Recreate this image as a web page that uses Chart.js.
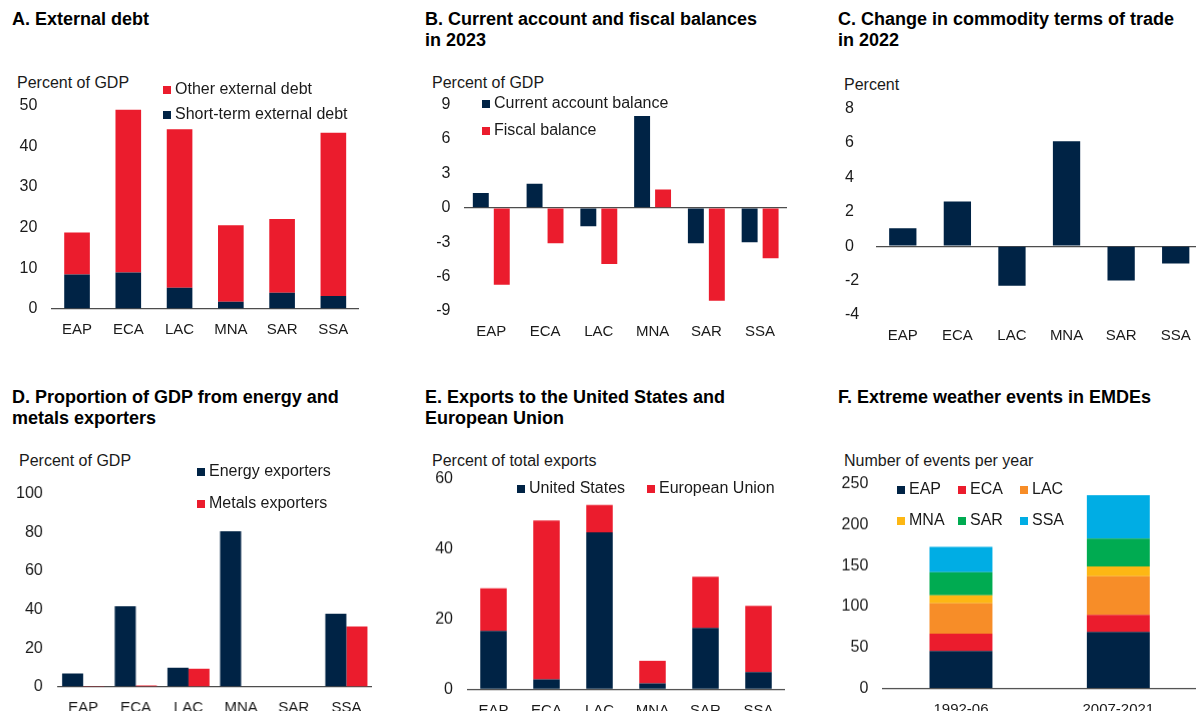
<!DOCTYPE html>
<html lang="en">
<head>
    <meta charset="UTF-8">
    <script src="https://cdn.jsdelivr.net/npm/chart.js"></script>
    <style>
        html, body {
            margin: 0;
            padding: 0;
            width: 1196px;
            height: 711px;
            overflow: hidden;
            background: #fff;
            font-family: "Liberation Sans", Arial, sans-serif;
            color: #1a1a1a;
        }
        .title {
            position: absolute;
            font-weight: bold;
            font-size: 18px;
            line-height: 21px;
            color: #000;
        }
        .unit {
            position: absolute;
            font-size: 16px;
            line-height: 18px;
            white-space: nowrap;
        }
        .box {
            position: absolute;
        }
        .legend-item {
            position: absolute;
            font-size: 16px;
            line-height: 18px;
            white-space: nowrap;
            display: flex;
            align-items: center;
        }
        .legend-item span.sw {
            display: inline-block;
            width: 8px;
            height: 8px;
            margin-right: 4px;
            margin-top: 1px;
        }
    </style>
</head>
<body>
    <div class="title" style="left:12px; top:9px;">A. External debt</div>
    <div class="title" style="left:425px; top:9px;">B. Current account and fiscal balances<br>in 2023</div>
    <div class="title" style="left:838px; top:9px;">C. Change in commodity terms of trade<br>in 2022</div>
    <div class="title" style="left:12px; top:387px;">D. Proportion of GDP from energy and<br>metals exporters</div>
    <div class="title" style="left:425px; top:387px;">E. Exports to the United States and<br>European Union</div>
    <div class="title" style="left:838px; top:387px;">F. Extreme weather events in EMDEs</div>

    <div class="unit" style="left:17px; top:74px;">Percent of GDP</div>
    <div class="unit" style="left:432px; top:74px;">Percent of GDP</div>
    <div class="unit" style="left:844px; top:76px;">Percent</div>
    <div class="unit" style="left:19px; top:452px;">Percent of GDP</div>
    <div class="unit" style="left:432px; top:452px;">Percent of total exports</div>
    <div class="unit" style="left:844px; top:452px;">Number of events per year</div>

    <div class="box" id="boxA"><canvas id="chartA"></canvas></div>
    <div class="box" id="boxB"><canvas id="chartB"></canvas></div>
    <div class="box" id="boxC"><canvas id="chartC"></canvas></div>
    <div class="box" id="boxD"><canvas id="chartD"></canvas></div>
    <div class="box" id="boxE"><canvas id="chartE"></canvas></div>
    <div class="box" id="boxF"><canvas id="chartF"></canvas></div>

    <script>
        // data
        const regions = ['EAP', 'ECA', 'LAC', 'MNA', 'SAR', 'SSA'];

        const shortTermDebt = [8.5, 9.0, 5.2, 1.8, 4.0, 3.2];
        const otherDebt = [10.3, 40.0, 39.0, 18.8, 18.1, 40.1];

        const currentAccount = [1.3, 2.1, -1.6, 8.0, -3.1, -3.0];
        const fiscalBalance = [-6.7, -3.1, -4.9, 1.6, -8.1, -4.4];

        const commodityToT = [1.05, 2.6, -2.3, 6.1, -2.0, -1.0];

        const energyExporters = [7.0, 41.7, 9.9, 80.5, 0, 37.9];
        const metalsExporters = [0.3, 0.8, 9.5, 0, 0, 31.3];

        const exportsUS = [16.6, 2.8, 44.7, 1.7, 17.5, 4.9];
        const exportsEU = [12.2, 45.3, 7.8, 6.4, 14.6, 18.9];

        const periods = ['1992-06', '2007-2021'];
        const weatherEAP = [46, 69];
        const weatherECA = [21, 21];
        const weatherLAC = [37, 47];
        const weatherMNA = [10, 12];
        const weatherSAR = [28, 34];
        const weatherSSA = [31, 53];

        const NAVY = '#002345';
        const RED = '#EB1C2D';
        const ORANGE = '#F78D28';
        const YELLOW = '#FDB714';
        const GREEN = '#00AB51';
        const CYAN = '#00ADE4';

        Chart.defaults.font.family = '"Liberation Sans", Arial, sans-serif';
        Chart.defaults.color = '#1a1a1a';
        Chart.defaults.animation = false;

        // p: canvasLeft, L/R/T/B = chart area in page coords
        const makePanel = (id, p, labels, datasets) => {
            const topGap = 22;   // space chart.js keeps above the plot (measured)
            const xHeight = 30;
            const box = document.getElementById('box' + id);
            const top = p.T - topGap;
            box.style.left = p.canvasLeft + 'px';
            box.style.top = top + 'px';
            box.style.width = (p.R - p.canvasLeft) + 'px';
            box.style.height = (p.B + xHeight - top) + 'px';

            return new Chart(document.getElementById('chart' + id), {
                type: 'bar',
                data: { labels: labels, datasets: datasets },
                options: {
                    responsive: true,
                    maintainAspectRatio: false,
                    layout: { padding: 0 },
                    datasets: {
                        bar: {
                            categoryPercentage: p.catPct,
                            barPercentage: p.barPct,
                            borderWidth: 0
                        }
                    },
                    plugins: {
                        legend: { display: false },
                        tooltip: { enabled: false }
                    },
                    scales: {
                        x: {
                            stacked: !!p.stacked,
                            grid: { display: false },
                            border: { display: false },
                            ticks: { font: { size: 15 }, padding: 4, color: '#1a1a1a' },
                            afterFit: (s) => { s.height = xHeight; }
                        },
                        y: {
                            stacked: !!p.stacked,
                            min: p.min,
                            max: p.max,
                            border: { display: false },
                            grid: {
                                drawTicks: false,
                                lineWidth: 1.3,
                                color: (c) => (c.tick && c.tick.value === 0) ? '#4d4d4d' : 'rgba(0,0,0,0)'
                            },
                            ticks: {
                                stepSize: p.step,
                                font: { size: 16 },
                                padding: 14,
                                crossAlign: p.crossAlign || 'near',
                                color: '#1a1a1a'
                            },
                            afterFit: (s) => { s.width = p.L - p.canvasLeft; }
                        }
                    }
                }
            });
        };

        const addLegend = (chart, items) => {
            items.forEach(([idx, x, y]) => {
                const ds = chart.data.datasets[idx];
                const el = document.createElement('div');
                el.className = 'legend-item';
                el.style.left = x + 'px';
                el.style.top = (y - 9) + 'px';
                el.innerHTML = '<span class="sw" style="background:' + ds.backgroundColor + '"></span>' + ds.label;
                document.body.appendChild(el);
            });
        };

        const chartA = makePanel('A',
            { canvasLeft: 10, L: 51.4, R: 359, T: 104, B: 309, min: 0, max: 50, step: 10, stacked: true, catPct: 1, barPct: 0.5 },
            regions,
            [
                { label: 'Short-term external debt', data: shortTermDebt, backgroundColor: NAVY },
                { label: 'Other external debt', data: otherDebt, backgroundColor: RED }
            ]);
        addLegend(chartA, [[1, 163, 89], [0, 163, 114]]);

        const chartB = makePanel('B',
            { canvasLeft: 420, L: 464.4, R: 787, T: 103, B: 311, min: -9, max: 9, step: 3, catPct: 0.78, barPct: 0.76 },
            regions,
            [
                { label: 'Current account balance', data: currentAccount, backgroundColor: NAVY },
                { label: 'Fiscal balance', data: fiscalBalance, backgroundColor: RED }
            ]);
        addLegend(chartB, [[0, 482, 103], [1, 482, 130]]);

        makePanel('C',
            { canvasLeft: 845, L: 875.5, R: 1203, T: 107, B: 315, min: -4, max: 8, step: 2, catPct: 1, barPct: 0.5, crossAlign: 'far' },
            regions,
            [
                { label: 'Commodity terms of trade', data: commodityToT, backgroundColor: NAVY }
            ]);

        const chartD = makePanel('D',
            { canvasLeft: 5, L: 56.7, R: 371.7, T: 492.3, B: 687.3, min: 0, max: 100, step: 20, catPct: 0.8, barPct: 1 },
            regions,
            [
                { label: 'Energy exporters', data: energyExporters, backgroundColor: NAVY },
                { label: 'Metals exporters', data: metalsExporters, backgroundColor: RED }
            ]);
        addLegend(chartD, [[0, 197, 471], [1, 197, 503]]);

        const chartE = makePanel('E',
            { canvasLeft: 420, L: 467, R: 785, T: 477.3, B: 688.7, min: 0, max: 60, step: 20, stacked: true, catPct: 1, barPct: 0.5 },
            regions,
            [
                { label: 'United States', data: exportsUS, backgroundColor: NAVY },
                { label: 'European Union', data: exportsEU, backgroundColor: RED }
            ]);
        addLegend(chartE, [[0, 517, 488], [1, 647, 488]]);

        const chartF = makePanel('F',
            { canvasLeft: 830, L: 882.3, R: 1197, T: 482.3, B: 688, min: 0, max: 250, step: 50, stacked: true, catPct: 1, barPct: 0.4 },
            periods,
            [
                { label: 'EAP', data: weatherEAP, backgroundColor: NAVY },
                { label: 'ECA', data: weatherECA, backgroundColor: RED },
                { label: 'LAC', data: weatherLAC, backgroundColor: ORANGE },
                { label: 'MNA', data: weatherMNA, backgroundColor: YELLOW },
                { label: 'SAR', data: weatherSAR, backgroundColor: GREEN },
                { label: 'SSA', data: weatherSSA, backgroundColor: CYAN }
            ]);
        addLegend(chartF, [
            [0, 897, 489], [1, 958, 489], [2, 1020, 489],
            [3, 897, 520], [4, 958, 520], [5, 1020, 520]
        ]);
    </script>
</body>
</html>
